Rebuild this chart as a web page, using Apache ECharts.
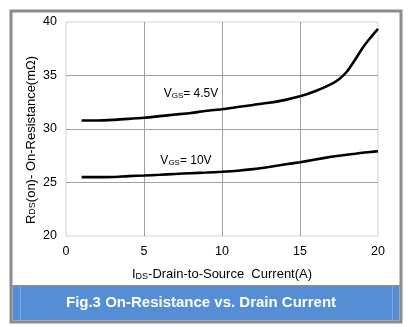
<!DOCTYPE html>
<html>
<head>
<meta charset="utf-8">
<script src="https://cdn.jsdelivr.net/npm/echarts@6/dist/echarts.min.js"></script>
<style>
html,body{margin:0;padding:0;background:#fff;}
#c{width:408px;height:327px;}
</style>
</head>
<body>
<div id="c"></div>
<script>
// Data
const current = [1, 2, 3, 4, 5, 6, 7, 8, 9, 10, 11, 12, 13, 14, 15, 16, 17, 17.5, 18, 18.5, 19, 19.5, 20];
const rdsVgs45 = [30.8, 30.8, 30.85, 30.95, 31.05, 31.2, 31.35, 31.5, 31.7, 31.85, 32.05, 32.25, 32.45, 32.7, 33.05, 33.55, 34.2, 34.65, 35.35, 36.4, 37.55, 38.5, 39.35];
const rdsVgs10 = [25.5, 25.5, 25.52, 25.6, 25.65, 25.72, 25.8, 25.87, 25.93, 26.0, 26.1, 26.25, 26.45, 26.68, 26.9, 27.15, 27.4, 27.5, 27.6, 27.69, 27.78, 27.85, 27.92];
const xTicks = [0, 5, 10, 15, 20];
const yTicks = [20, 25, 30, 35, 40];
const figTitle = 'Fig.3 On-Resistance vs. Drain Current';

const font = 'Arial, "Liberation Sans", sans-serif';
const chart = echarts.init(document.getElementById('c'), null, {renderer: 'canvas'});

function pairs(xs, ys) { return xs.map((x, i) => [x, ys[i]]); }

function subRich(size) {
  return {
    m: {fontSize: size, fontFamily: font, color: '#000', verticalAlign: 'middle'},
    s: {fontSize: Math.round(size * 0.68), fontFamily: font, color: '#000', verticalAlign: 'bottom'}
  };
}

chart.setOption({
  animation: false,
  backgroundColor: '#fff',
  grid: {left: 66, top: 22, width: 312, height: 214, show: true, borderColor: '#d4d4d4', borderWidth: 1},
  xAxis: {
    type: 'value', min: xTicks[0], max: xTicks[xTicks.length - 1], interval: 5,
    axisLine: {show: false}, axisTick: {show: false},
    axisLabel: {fontSize: 12.5, fontFamily: font, color: '#000', margin: 9},
    splitLine: {show: true, showMinLine: false, showMaxLine: false, lineStyle: {color: '#a0a0a0', width: 1}},
    name: '{m|I}{s|DS}{m|-Drain-to-Source  Current(A)}',
    nameLocation: 'middle', nameGap: 32,
    nameTextStyle: {rich: subRich(13)}
  },
  yAxis: {
    type: 'value', min: yTicks[0], max: yTicks[yTicks.length - 1], interval: 5,
    axisLine: {show: false}, axisTick: {show: false},
    axisLabel: {fontSize: 12.5, fontFamily: font, color: '#000', margin: 9},
    splitLine: {show: true, showMinLine: false, showMaxLine: false, lineStyle: {color: '#a0a0a0', width: 1}}
  },
  series: [
    {type: 'line', data: pairs(current, rdsVgs45), smooth: 0.25, showSymbol: false, symbol: 'none',
     lineStyle: {color: '#000', width: 2.6}},
    {type: 'line', data: pairs(current, rdsVgs10), smooth: 0.25, showSymbol: false, symbol: 'none',
     lineStyle: {color: '#000', width: 2.6}}
  ],
  graphic: [
    // outer frame
    {type: 'rect', shape: {x: 11, y: 11, width: 390, height: 311}, style: {fill: 'none', stroke: '#8c8c8c', lineWidth: 3}, z: 100},
    // blue caption band
    {type: 'rect', shape: {x: 12.5, y: 286, width: 387, height: 34.5}, style: {fill: '#558ed5'}, z: 90},
    {type: 'rect', shape: {x: 11, y: 285, width: 390, height: 1.5}, style: {fill: '#8c8c8c'}, z: 101},
    {type: 'rect', shape: {x: 20, y: 286, width: 1, height: 34}, style: {fill: '#7ea9e0'}, z: 95},
    {type: 'rect', shape: {x: 392, y: 286, width: 1, height: 34}, style: {fill: '#7ea9e0'}, z: 95},
    {type: 'text', x: 201, y: 303, style: {text: figTitle, font: 'bold 15px ' + font, fill: '#fff', textAlign: 'center', textVerticalAlign: 'middle'}, z: 102},
    // y axis title
    {type: 'text', x: 31, y: 140, rotation: Math.PI / 2,
     style: {text: '{m|R}{s|DS}{m|(on)- On-Resistance(mΩ)}', rich: subRich(13), textAlign: 'center', textVerticalAlign: 'middle'}, z: 50},
    // curve labels
    {type: 'text', x: 191, y: 94,
     style: {text: '{m|V}{s|GS}{m|= 4.5V}', rich: subRich(12), textAlign: 'center', textVerticalAlign: 'middle'}, z: 50},
    {type: 'text', x: 186, y: 161,
     style: {text: '{m|V}{s|GS}{m|= 10V}', rich: subRich(12), textAlign: 'center', textVerticalAlign: 'middle'}, z: 50}
  ]
});
</script>
</body>
</html>
